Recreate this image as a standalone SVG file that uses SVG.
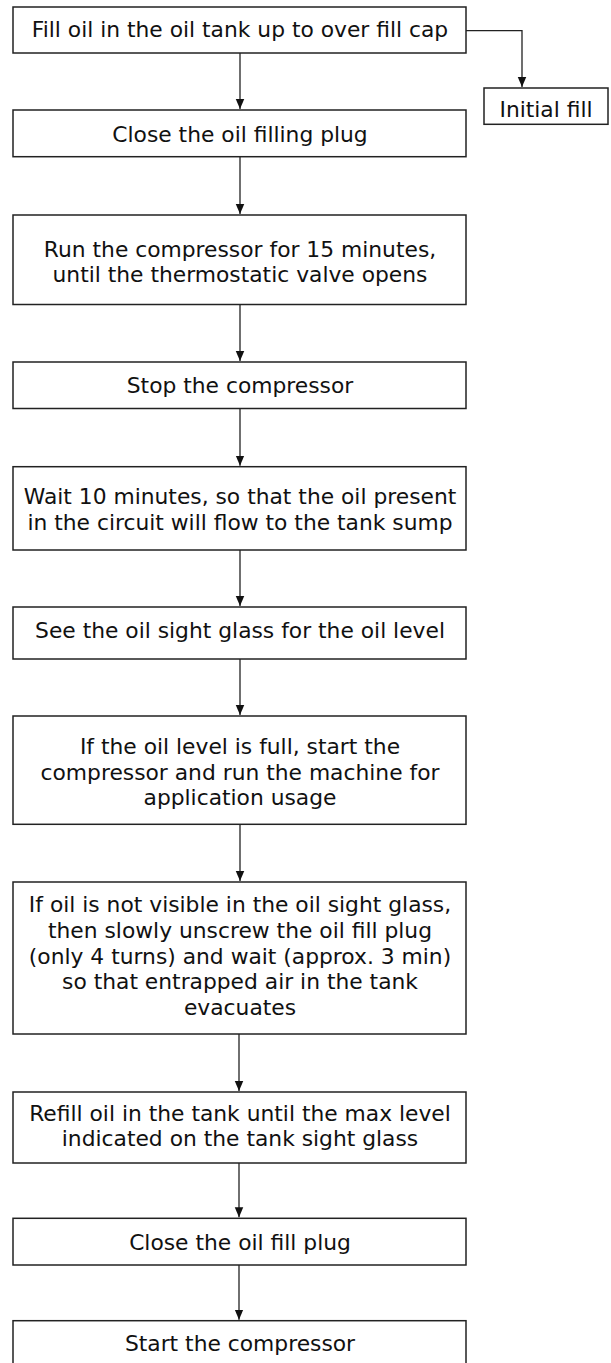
<svg xmlns="http://www.w3.org/2000/svg" width="611" height="1363" viewBox="0 0 611 1363">
<defs>
<style>
.box{fill:#fff;stroke:#222;stroke-width:1.5}
.t{font-family:"DejaVu Sans","Verdana",sans-serif;font-size:21.8px;fill:#111;text-anchor:middle}
.c{fill:none;stroke:#222;stroke-width:1.3}
</style>
<marker id="ah" markerUnits="userSpaceOnUse" markerWidth="10" markerHeight="10" viewBox="0 0 8 8" refX="8" refY="4" orient="auto">
<path d="M0,0.6 L8,4 L0,7.4 Z" fill="#111"/>
</marker>
</defs>
<rect width="611" height="1363" fill="#fff"/>
<g id="connectors">
<path class="c" d="M466,30.7 H522 V87" marker-end="url(#ah)"/>
<path class="c" d="M240,53 V109" marker-end="url(#ah)"/>
<path class="c" d="M240,156.7 V214" marker-end="url(#ah)"/>
<path class="c" d="M240,304.5 V361" marker-end="url(#ah)"/>
<path class="c" d="M240,408.5 V465.7" marker-end="url(#ah)"/>
<path class="c" d="M240,550 V606" marker-end="url(#ah)"/>
<path class="c" d="M240,659 V715" marker-end="url(#ah)"/>
<path class="c" d="M240,824.3 V881" marker-end="url(#ah)"/>
<path class="c" d="M239,1034 V1091" marker-end="url(#ah)"/>
<path class="c" d="M239,1163 V1217.3" marker-end="url(#ah)"/>
<path class="c" d="M239,1265 V1319.7" marker-end="url(#ah)"/>
</g>
<g id="n1"><rect class="box" x="13" y="7" width="453" height="46"/><text class="t" x="240" y="37">Fill oil in the oil tank up to over fill cap</text></g>
<g id="n_initial"><rect class="box" x="484" y="88" width="124" height="36.3"/><text class="t" x="546" y="117">Initial fill</text></g>
<g id="n2"><rect class="box" x="13" y="110" width="453" height="46.7"/><text class="t" x="240" y="141.5">Close the oil filling plug</text></g>
<g id="n3"><rect class="box" x="13" y="215" width="453" height="89.5"/><text class="t" x="240" y="256.5">Run the compressor for 15 minutes,</text><text class="t" x="240" y="282">until the thermostatic valve opens</text></g>
<g id="n4"><rect class="box" x="13" y="362" width="453" height="46.5"/><text class="t" x="240" y="392.5">Stop the compressor</text></g>
<g id="n5"><rect class="box" x="13" y="466.7" width="453" height="83.3"/><text class="t" x="240" y="504">Wait 10 minutes, so that the oil present</text><text class="t" x="240" y="530">in the circuit will flow to the tank sump</text></g>
<g id="n6"><rect class="box" x="13" y="607" width="453" height="52"/><text class="t" x="240" y="638">See the oil sight glass for the oil level</text></g>
<g id="n7"><rect class="box" x="13" y="716" width="453" height="108.3"/><text class="t" x="240" y="753.5">If the oil level is full, start the</text><text class="t" x="240" y="779.5">compressor and run the machine for</text><text class="t" x="240" y="805">application usage</text></g>
<g id="n8"><rect class="box" x="13" y="882" width="453" height="152"/><text class="t" x="240" y="912">If oil is not visible in the oil sight glass,</text><text class="t" x="240" y="937.5">then slowly unscrew the oil fill plug</text><text class="t" x="240" y="963.5">(only 4 turns) and wait (approx. 3 min)</text><text class="t" x="240" y="989">so that entrapped air in the tank</text><text class="t" x="240" y="1014.5">evacuates</text></g>
<g id="n9"><rect class="box" x="13" y="1092" width="453" height="71"/><text class="t" x="240" y="1120.5">Refill oil in the tank until the max level</text><text class="t" x="240" y="1146">indicated on the tank sight glass</text></g>
<g id="n10"><rect class="box" x="13" y="1218.3" width="453" height="46.7"/><text class="t" x="240" y="1249.5">Close the oil fill plug</text></g>
<g id="n11"><rect class="box" x="13" y="1320.7" width="453" height="60"/><text class="t" x="240" y="1351">Start the compressor</text></g>
</svg>
